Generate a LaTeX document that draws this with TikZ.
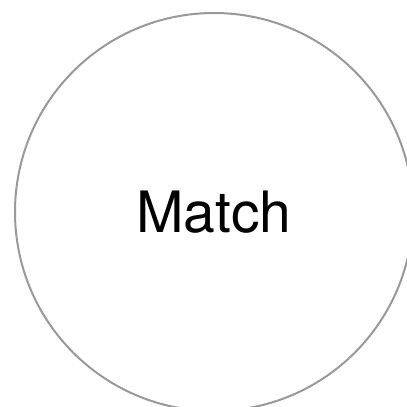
\documentclass[tikz,border=0pt]{standalone}
\usepackage{fontspec}
\setmainfont{TeX Gyre Heros}
\usepackage{tikz}

\begin{document}
\begin{tikzpicture}[
  x=1pt, y=1pt,
  matchcircle/.style={draw=black!40, line width=2pt, circle, minimum size=398pt, inner sep=0pt,
    font=\fontsize{57}{60}\selectfont}
]
\useasboundingbox (0,0) rectangle (407,-407);

% the circle with its label
\node[matchcircle] (match) at (214,-212) {\raisebox{-3pt}{Match}};

\end{tikzpicture}
\end{document}
